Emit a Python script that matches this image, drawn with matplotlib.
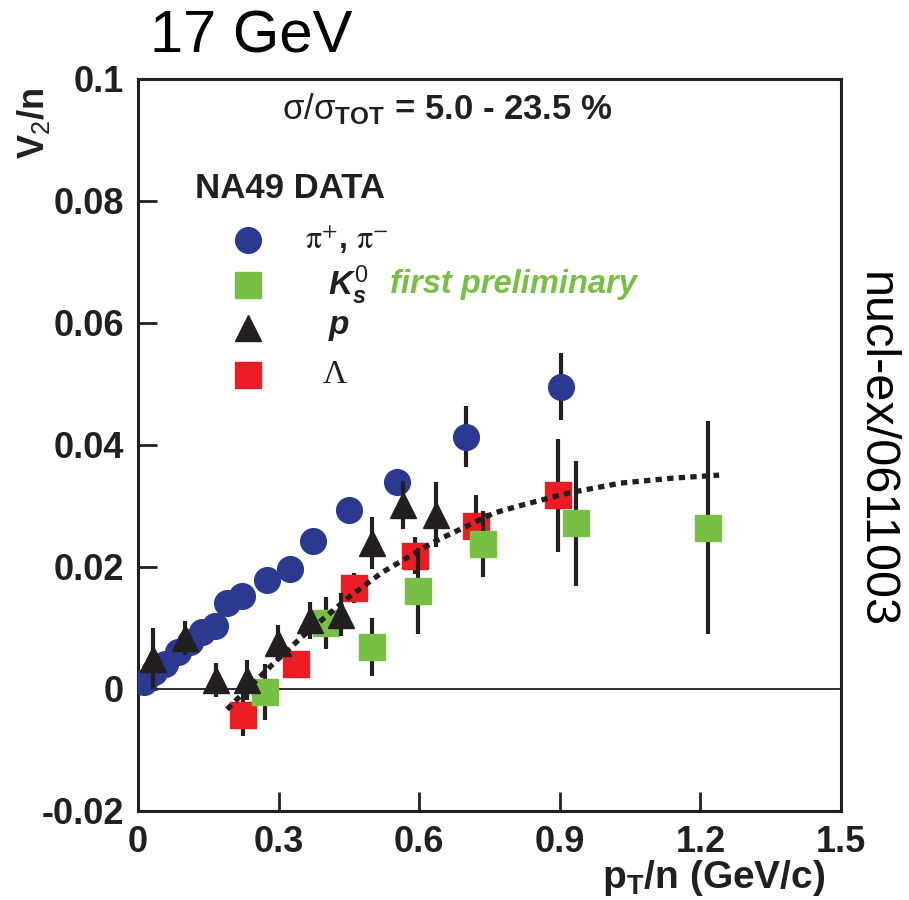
import matplotlib
matplotlib.use("Agg")
import matplotlib.pyplot as plt

# ---- data ----
pion_x = [0.012, 0.035, 0.058, 0.085, 0.11, 0.137, 0.165, 0.19, 0.222, 0.276, 0.325, 0.374, 0.451, 0.553, 0.70, 0.902]
pion_y = [0.0011, 0.0028, 0.0040, 0.0060, 0.0077, 0.0093, 0.0103, 0.0140, 0.0152, 0.0178, 0.0196, 0.0242, 0.0293, 0.0339, 0.0413, 0.0495]
pion_err = [0.001, 0.001, 0.001, 0.001, 0.001, 0.001, 0.001, 0.001, 0.001, 0.001, 0.001, 0.0015, 0.0015, 0.002, 0.005, 0.0055]

k0s_x = [0.271, 0.402, 0.50, 0.598, 0.737, 0.934, 1.216]
k0s_y = [-0.0005, 0.0108, 0.0068, 0.0160, 0.0237, 0.0271, 0.0264]
k0s_err = [0.0046, 0.0043, 0.0047, 0.0070, 0.0054, 0.0103, 0.0174]

prot_x = [0.032, 0.10, 0.167, 0.233, 0.299, 0.368, 0.434, 0.50, 0.566, 0.635]
prot_y = [0.0049, 0.0083, 0.0014, 0.0014, 0.0075, 0.0112, 0.0121, 0.0239, 0.0301, 0.0285]
prot_err = [0.005, 0.0028, 0.0028, 0.0033, 0.003, 0.003, 0.0035, 0.0043, 0.004, 0.0053]

lam_x = [0.224, 0.338, 0.46, 0.592, 0.722, 0.897]
lam_y = [-0.0043, 0.0040, 0.0165, 0.0218, 0.0267, 0.0317]
lam_err = [0.0034, 0.002, 0.0025, 0.003, 0.005, 0.0093]

fit_x = [0.19, 0.225, 0.29, 0.35, 0.45, 0.52, 0.63, 0.76, 0.82, 0.92, 1.03, 1.14, 1.24]
fit_y = [-0.0034, -0.0007, 0.0042, 0.0085, 0.0150, 0.0190, 0.0240, 0.0288, 0.0301, 0.0321, 0.0337, 0.0345, 0.0350]

xticks = [0, 0.3, 0.6, 0.9, 1.2, 1.5]
xticklabels = ["0", "0.3", "0.6", "0.9", "1.2", "1.5"]
yticks = [-0.02, 0, 0.02, 0.04, 0.06, 0.08, 0.1]
yticklabels = ["-0.02", "0", "0.02", "0.04", "0.06", "0.08", "0.1"]

BLUE = "#2b3990"
GREEN = "#77c043"
RED = "#ed1c24"
BLACK = "#231f20"

plt.rcParams["font.family"] = ["Liberation Sans", "DejaVu Sans"]
plt.rcParams["mathtext.fontset"] = "custom"
plt.rcParams["mathtext.rm"] = "Liberation Sans"
plt.rcParams["mathtext.it"] = "Liberation Sans:italic:bold"
plt.rcParams["mathtext.bf"] = "Liberation Sans:bold"

fig = plt.figure(figsize=(9.09, 9.0), dpi=100)
ax = fig.add_axes([0.1518, 0.0993, 0.7734, 0.8133])

ms = 18.5
eb = dict(ls="none", ecolor=BLACK, elinewidth=3, capsize=0)

ax.errorbar(pion_x, pion_y, yerr=pion_err, marker="o", ms=ms, mfc=BLUE, mec=BLUE, zorder=3, **eb)
ax.errorbar(lam_x, lam_y, yerr=lam_err, marker="s", ms=ms, mfc=RED, mec=RED, zorder=4, **eb)
ax.errorbar(k0s_x, k0s_y, yerr=k0s_err, marker="s", ms=ms, mfc=GREEN, mec=GREEN, zorder=5, **eb)
ax.errorbar(prot_x, prot_y, yerr=prot_err, marker="^", ms=ms, mfc=BLACK, mec=BLACK, zorder=6, **eb)

ax.plot(fit_x, fit_y, color=BLACK, lw=3.8, dashes=(1.2, 1.0), zorder=7)
ax.axhline(0, color=BLACK, lw=1.3, zorder=1)

ax.set_xlim(0, 1.5)
ax.set_ylim(-0.02, 0.1)
ax.set_xticks(xticks)
ax.set_xticklabels(xticklabels, fontweight="bold")
ax.set_yticks(yticks)
ax.set_yticklabels(yticklabels, fontweight="bold")
ax.tick_params(direction="in", length=14, width=2, labelsize=26, pad=10, colors=BLACK)
for s in ax.spines.values():
    s.set_linewidth(2.2)
    s.set_color(BLACK)

# legend drawn by hand, as in the original
T = ax.transAxes
ax.text(0.081, 0.8505, "NA49 DATA", transform=T, fontsize=25, fontweight="bold", va="center", color=BLACK)
ax.plot([0.1565], [0.7796], "o", ms=18.5, color=BLUE, transform=T, clip_on=False)
ax.plot([0.1565], [0.7182], "s", ms=18.5, color=GREEN, transform=T, clip_on=False)
ax.plot([0.1565], [0.6594], "^", ms=18.5, color=BLACK, transform=T, clip_on=False)
ax.plot([0.1565], [0.5953], "s", ms=18.5, color=RED, transform=T, clip_on=False)
ax.text(0.2376, 0.7796, r"$\mathrm{\pi}^{+}$, $\mathrm{\pi}^{-}$", transform=T, fontsize=23,
        fontweight="bold", va="center", math_fontfamily="stix", color=BLACK)
ax.text(0.270, 0.7182, r"$K_s^0$", transform=T, fontsize=24, va="center", color=BLACK)
ax.text(0.3585, 0.7182, "first preliminary", transform=T, fontsize=23.5, fontweight="bold",
        fontstyle="italic", va="center", color=GREEN)
ax.text(0.270, 0.6594, r"$p$", transform=T, fontsize=24, va="center", color=BLACK)
ax.text(0.262, 0.5953, "Λ", transform=T, fontsize=24, family="Liberation Serif", va="center", color=BLACK)

ax.text(0.44, 0.9577, r"$\mathrm{\sigma/\sigma}_{\mathbf{TOT}}$ = 5.0 - 23.5 %", transform=T,
        fontsize=25, fontweight="bold", ha="center", va="center", color=BLACK)

fig.text(150 / 909, 1 - 37 / 900, "17 GeV", fontsize=43, va="center", ha="left", color="black")
fig.text(825 / 909, 1 - 878 / 900, r"$\mathbf{p_T}$/n (GeV/c)", fontsize=28, fontweight="bold",
         ha="right", va="center", color=BLACK)
fig.text(33 / 909, 1 - 88 / 900, r"$\mathbf{V}_{\mathrm{2}}$/n", fontsize=26, fontweight="bold",
         rotation=90, ha="center", va="top", color=BLACK)
fig.text(875 / 909, 1 - 450 / 900, "nucl-ex/0611003", fontsize=35, rotation=-90,
         ha="center", va="center", color="black")

fig.savefig("out.png", dpi=100)
